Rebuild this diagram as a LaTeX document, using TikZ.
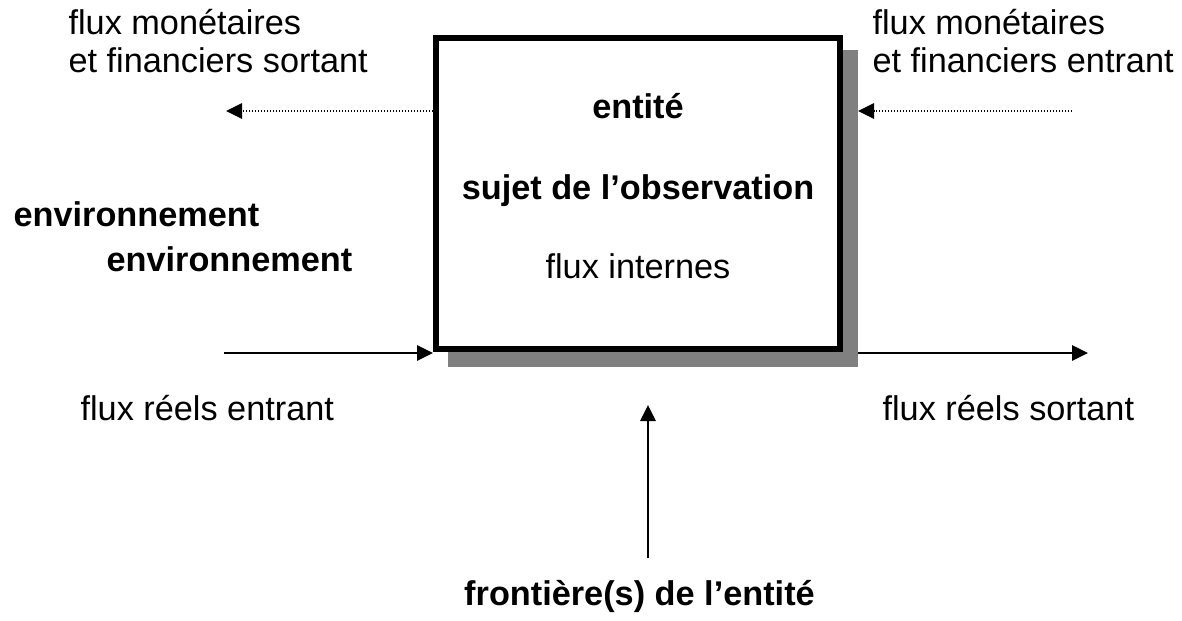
\documentclass[tikz,border=0pt]{standalone}
\usepackage{fontspec}
\setmainfont{Liberation Sans}
\usetikzlibrary{arrows.meta,backgrounds}
\definecolor{ink}{HTML}{000000}
\definecolor{shadowgray}{HTML}{808080}

\begin{document}
\begin{tikzpicture}[x=0.35pt, y=-0.35pt, ink, font=\fontsize{12}{13.3}\selectfont,
  >={Triangle[length=5.6pt,width=5.4pt]},
  flow/.style={->, line width=0.7pt},
  money/.style={->, line width=0.7pt, dash pattern=on 0.5pt off 0.55pt},
  lab/.style={inner sep=0pt, anchor=base west, align=left},
  head/.style={inner sep=0pt, anchor=base, font=\fontsize{12}{13.3}\selectfont\bfseries}]

\useasboundingbox (0,0) rectangle (1182,621);

% entity and its shadow
\node[draw, line width=2.1pt, fill=white, inner sep=0pt,
      minimum width=141.4pt, minimum height=108.85pt] (box) at (638,193.5) {};
\begin{scope}[on background layer]
\fill[shadowgray] ([shift={(15,15)}]box.north west) rectangle ([shift={(15,15)}]box.south east);
\end{scope}
\coordinate (shadowSE) at ([shift={(15,15)}]box.south east);

\node[head] (ent) at (638,119) {entité};
\node[head] (subj) at (638,200) {sujet de l’observation};
\node[head, font=\fontsize{12}{13.3}\selectfont] (internal) at (638,279) {flux internes};

% money flows (base = last line)
\node[lab] (moneyOut) at (68,73) {flux monétaires\\et financiers sortant};
\node[lab] (moneyIn) at (872,73) {flux monétaires\\et financiers entrant};
\coordinate (moneyOutEnd) at (226,111);
\coordinate (moneyInStart) at (1072,111);
\draw[money] (box.west |- moneyOutEnd) -- (moneyOutEnd);
\draw[money] (moneyInStart) -- (shadowSE |- moneyInStart);

% environment
\node[lab, font=\fontsize{12}{13.3}\selectfont\bfseries] (env1) at (13,227) {environnement};
\node[lab, font=\fontsize{12}{13.3}\selectfont\bfseries] (env2) at (106,272) {environnement};

% real flows
\coordinate (realInStart) at (224,353);
\coordinate (realOutEnd) at (1088,353);
\draw[flow] (realInStart) -- (box.south west |- realInStart);
\draw[flow] (shadowSE |- realOutEnd) -- (realOutEnd);
\node[lab] (realIn) at (80,420) {flux réels entrant};
\node[lab] (realOut) at (882,420) {flux réels sortant};

% boundary
\coordinate (bndStart) at (648,558);
\coordinate (bndTip) at (648,405);
\draw[flow] (bndStart) -- (bndTip);
\node[head] (bnd) at (639.5,605) {frontière(s) de l’entité};

\end{tikzpicture}
\end{document}
